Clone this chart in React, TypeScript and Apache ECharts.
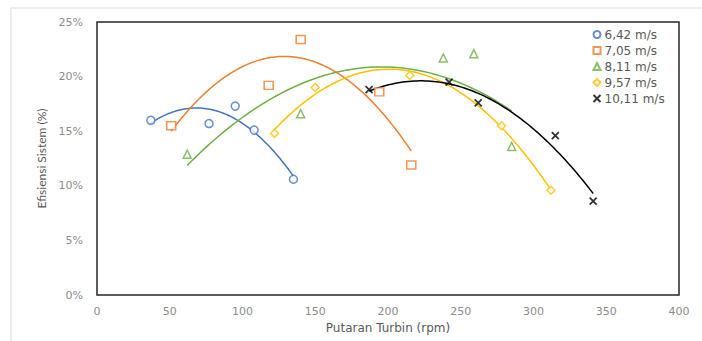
import React, { useEffect, useRef } from "react";
import * as echarts from "echarts";

// Series names (wind speeds)
const seriesNames = ["6,42 m/s", "7,05 m/s", "8,11 m/s", "9,57 m/s", "10,11 m/s"];

// Turbine speed (rpm) and system efficiency (%) per series
const rpm642 = [37, 77, 95, 108, 135];
const eff642 = [16.0, 15.7, 17.3, 15.1, 10.6];

const rpm705 = [51, 118, 140, 194, 216];
const eff705 = [15.5, 19.2, 23.4, 18.6, 11.9];

const rpm811 = [62, 140, 238, 259, 285];
const eff811 = [12.9, 16.6, 21.7, 22.1, 13.6];

const rpm957 = [122, 150, 215, 278, 312];
const eff957 = [14.8, 19.0, 20.1, 15.5, 9.6];

const rpm1011 = [187, 242, 262, 315, 341];
const eff1011 = [18.8, 19.5, 17.6, 14.6, 8.6];

// Axis ticks
const xTicks = [0, 50, 100, 150, 200, 250, 300, 350, 400];
const yTicks = [0, 5, 10, 15, 20, 25];

const colors = ["#4472C4", "#ED7D31", "#70AD47", "#FFC000", "#000000"];
const symbols = [
  "circle",
  "rect",
  "triangle",
  "diamond",
  "path://M0,0L10,10M10,0L0,10",
];
const symbolSizes: any[] = [8, [9, 8], 8, 8, 7];

const WIDE = "'DejaVu Sans', sans-serif";
const NARROW = "Lato, 'Open Sans', sans-serif";

// Polynomial (order 2) least-squares trendline, as Excel computes it
function quadFit(xs: number[], ys: number[]) {
  const n = xs.length;
  const mx = xs.reduce((a, b) => a + b, 0) / n;
  let s1 = 0, s2 = 0, s3 = 0, s4 = 0, t0 = 0, t1 = 0, t2 = 0;
  for (let i = 0; i < n; i++) {
    const u = xs[i] - mx;
    const y = ys[i];
    s1 += u; s2 += u * u; s3 += u * u * u; s4 += u * u * u * u;
    t0 += y; t1 += u * y; t2 += u * u * y;
  }
  const M = [
    [n, s1, s2, t0],
    [s1, s2, s3, t1],
    [s2, s3, s4, t2],
  ];
  for (let c = 0; c < 3; c++) {
    let p = c;
    for (let r = c + 1; r < 3; r++) if (Math.abs(M[r][c]) > Math.abs(M[p][c])) p = r;
    [M[c], M[p]] = [M[p], M[c]];
    for (let r = 0; r < 3; r++) {
      if (r === c) continue;
      const f = M[r][c] / M[c][c];
      for (let k = c; k < 4; k++) M[r][k] -= f * M[c][k];
    }
  }
  const a = M[0][3] / M[0][0];
  const b = M[1][3] / M[1][1];
  const cc = M[2][3] / M[2][2];
  return (x: number) => {
    const u = x - mx;
    return a + b * u + cc * u * u;
  };
}

function trend(xs: number[], ys: number[]) {
  const f = quadFit(xs, ys);
  const lo = Math.min(...xs);
  const hi = Math.max(...xs);
  const pts: number[][] = [];
  const steps = 80;
  for (let i = 0; i <= steps; i++) {
    const x = lo + ((hi - lo) * i) / steps;
    pts.push([x, f(x)]);
  }
  return pts;
}

export default function App() {
  const ref = useRef<HTMLDivElement>(null);

  useEffect(() => {
    if (!ref.current) return;
    const chart = echarts.init(ref.current, undefined, { renderer: "svg" });
    const xsAll = [rpm642, rpm705, rpm811, rpm957, rpm1011];
    const ysAll = [eff642, eff705, eff811, eff957, eff1011];

    const trendSeries = xsAll.map((xs, i) => ({
      type: "line",
      name: seriesNames[i] + " trend",
      data: trend(xs, ysAll[i]),
      showSymbol: false,
      symbol: "none",
      silent: true,
      lineStyle: { color: colors[i], width: 1.5 },
      z: 2,
    }));

    const scatterSeries = xsAll.map((xs, i) => ({
      type: "scatter",
      name: seriesNames[i],
      data: xs.map((x, j) => [x, ysAll[i][j]]),
      symbol: symbols[i],
      symbolSize: symbolSizes[i],
      itemStyle: {
        color: i === 4 ? "none" : "#ffffff",
        borderColor: colors[i],
        borderWidth: i === 4 ? 1.8 : 1.5,
      },
      z: 3,
    }));

    chart.setOption({
      animation: false,
      textStyle: { fontFamily: WIDE },
      graphic: [
        {
          type: "rect",
          shape: { x: 11, y: 8, width: 720, height: 360 },
          style: { fill: "none", stroke: "#d9d9d9", lineWidth: 1 },
          silent: true,
          z: -1,
        },
      ],
      grid: {
        left: 97,
        right: 23,
        top: 22,
        bottom: 46,
        show: true,
        borderColor: "#262626",
        borderWidth: 1.5,
        backgroundColor: "#fff",
      },
      legend: {
        orient: "vertical",
        left: 591,
        top: 28,
        data: seriesNames,
        itemWidth: 7,
        itemHeight: 7,
        itemGap: 3,
        padding: 0,
        textStyle: {
          fontSize: 12,
          lineHeight: 13,
          color: "#595959",
          fontFamily: WIDE,
          padding: [0, 0, 0, -1],
        },
      },
      xAxis: {
        type: "value",
        min: xTicks[0],
        max: xTicks[xTicks.length - 1],
        interval: xTicks[1] - xTicks[0],
        name: "Putaran Turbin (rpm)",
        nameLocation: "middle",
        nameGap: 26,
        nameTextStyle: { fontSize: 12, color: "#595959", fontFamily: WIDE },
        axisLine: { show: false },
        axisTick: { show: false },
        splitLine: { show: false },
        axisLabel: { fontSize: 11, color: "#8c8c8c", margin: 11, fontFamily: WIDE },
      },
      yAxis: {
        type: "value",
        min: yTicks[0],
        max: yTicks[yTicks.length - 1],
        interval: yTicks[1] - yTicks[0],
        name: "Efisiensi Sistem (%)",
        nameLocation: "middle",
        nameGap: 48,
        nameTextStyle: { fontSize: 12, color: "#595959", fontFamily: NARROW },
        axisLine: { show: false },
        axisTick: { show: false },
        splitLine: { show: false },
        axisLabel: {
          fontSize: 11,
          color: "#8c8c8c",
          margin: 14,
          fontFamily: WIDE,
          formatter: "{value}%",
        },
      },
      series: [...trendSeries, ...scatterSeries],
    });
    return () => chart.dispose();
  }, []);

  return (
    <div
      ref={ref}
      style={{ position: "fixed", left: 0, top: 0, width: 702, height: 341, background: "#fff" }}
    />
  );
}
